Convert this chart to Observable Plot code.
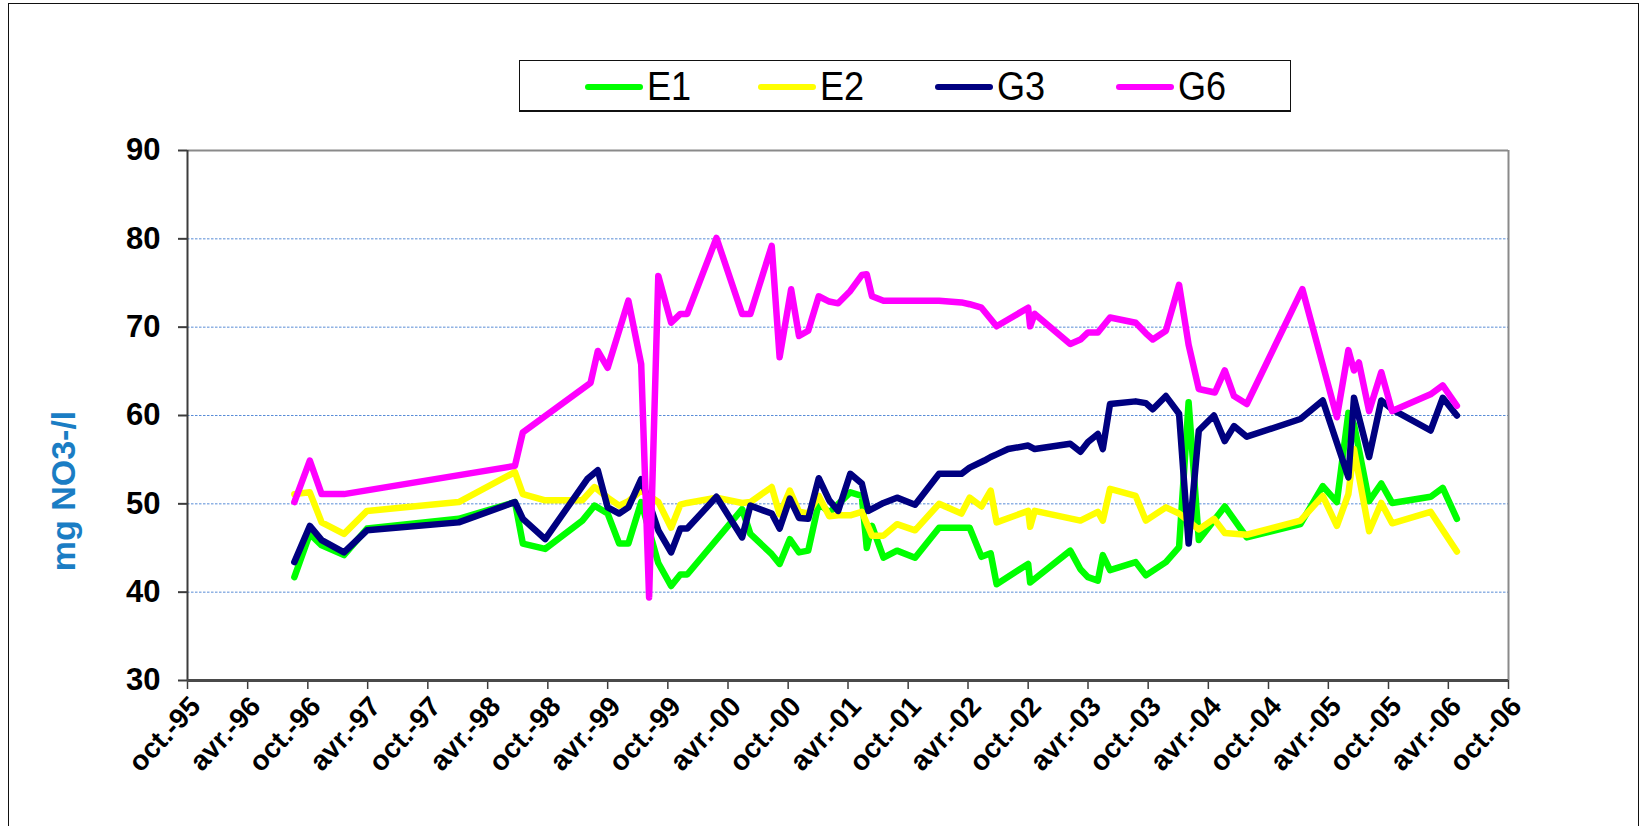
<!DOCTYPE html>
<html>
<head>
<meta charset="utf-8">
<script src="https://cdn.jsdelivr.net/npm/d3@7"></script>
<script src="https://cdn.jsdelivr.net/npm/@observablehq/plot@0.6"></script>
<style>
  html, body { margin: 0; padding: 0; background: #fff; }
  body { width: 1645px; height: 826px; position: relative; overflow: hidden; font-family: "Liberation Sans", Arial, sans-serif; }
  #frame { position: absolute; left: 8px; top: 3px; width: 1631px; height: 900px; border: 1.5px solid #111; box-sizing: border-box; }
  #chart { position: absolute; left: 0; top: 0; }
  #legend { position: absolute; left: 519px; top: 60px; width: 772px; height: 52px; border: 1.5px solid #111; border-bottom-width: 2.5px; box-sizing: border-box; background: #fff; }
  .sw { position: absolute; height: 6px; border-radius: 3px; top: 23px; }
  .lt { position: absolute; top: 2px; font-size: 41px; line-height: 46px; color: #000; transform: scaleX(0.88); transform-origin: left center; }
  #ylabel { position: absolute; left: 63px; top: 491px; transform: translate(-50%, -50%) rotate(-90deg); white-space: nowrap; color: #1a7dc4; font-weight: bold; font-size: 34px; line-height: 34px; }
</style>
</head>
<body>
<div id="frame"></div>
<div id="chart"></div>
<div id="legend"></div>
<div id="ylabel"></div>
<script>
// ---- data ----
const seriesNames = ["E1", "E2", "G3", "G6"];
const yAxisLabel = "mg NO3-/l";
const tickLabels = ["oct.-95","avr.-96","oct.-96","avr.-97","oct.-97","avr.-98","oct.-98","avr.-99","oct.-99","avr.-00","oct.-00","avr.-01","oct.-01","avr.-02","oct.-02","avr.-03","oct.-03","avr.-04","oct.-04","avr.-05","oct.-05","avr.-06","oct.-06"];
const yTicks = [30, 40, 50, 60, 70, 80, 90];
const gridValues = [40, 50, 60, 70, 80];

const e1 = [
["1996-08-21",41.7],["1996-10-07",46.6],["1996-11-12",45.3],["1997-01-19",44.2],["1997-03-30",47.2],
["1998-01-03",48.3],["1998-06-23",50.2],["1998-07-17",45.5],["1998-09-23",44.9],["1999-01-14",48.1],
["1999-02-20",49.8],["1999-04-01",48.9],["1999-05-06",45.5],["1999-06-03",45.5],["1999-07-12",50.2],
["1999-09-02",43.3],["1999-10-11",40.7],["1999-11-08",42.0],["1999-11-29",42.0],["2000-05-14",49.4],
["2000-06-08",46.6],["2000-08-12",44.3],["2000-09-05",43.2],["2000-10-06",46.0],["2000-11-03",44.5],
["2000-12-01",44.7],["2001-01-02",50.1],["2001-02-03",49.0],["2001-04-08",51.3],["2001-05-13",50.9],
["2001-05-28",45.0],["2001-06-13",47.5],["2001-07-18",43.9],["2001-08-28",44.7],["2001-10-22",43.9],
["2002-01-03",47.3],["2002-04-06",47.3],["2002-05-12",44.0],["2002-06-09",44.4],["2002-06-27",40.9],
["2002-10-01",43.2],["2002-10-07",41.1],["2003-02-06",44.7],["2003-03-09",42.6],["2003-04-01",41.7],
["2003-05-01",41.3],["2003-05-16",44.2],["2003-06-07",42.5],["2003-08-24",43.4],["2003-09-24",41.9],
["2003-11-24",43.4],["2004-01-03",45.1],["2004-02-01",61.5],["2004-03-03",45.9],["2004-05-21",49.7],
["2004-07-27",46.2],["2005-01-06",47.7],["2005-03-15",52.0],["2005-04-27",50.2],["2005-06-01",60.3],
["2005-06-18",59.0],["2005-08-03",50.3],["2005-09-09",52.3],["2005-10-12",50.1],["2006-02-06",50.8],
["2006-03-15",51.8],["2006-04-27",48.3]
];

const e2 = [
["1996-08-21",51.1],["1996-10-07",51.3],["1996-11-12",47.9],["1997-01-19",46.6],["1997-03-30",49.2],
["1998-01-03",50.2],["1998-06-23",53.6],["1998-07-17",51.1],["1998-09-23",50.4],["1999-01-14",50.4],
["1999-02-20",51.9],["1999-04-01",50.7],["1999-05-06",49.8],["1999-06-03",50.3],["1999-07-12",51.5],
["1999-09-02",50.2],["1999-10-11",47.3],["1999-11-08",49.9],["1999-11-29",50.1],["2000-02-26",50.7],
["2000-05-14",50.1],["2000-06-08",50.2],["2000-08-12",51.9],["2000-09-05",48.8],["2000-10-06",51.5],
["2000-11-03",49.1],["2000-12-01",48.9],["2001-01-02",50.9],["2001-02-03",48.6],["2001-03-02",48.7],
["2001-04-08",48.7],["2001-05-13",49.1],["2001-06-13",46.4],["2001-07-18",46.4],["2001-08-28",47.7],
["2001-10-22",47.0],["2002-01-03",50.0],["2002-03-12",48.9],["2002-04-06",50.7],["2002-05-12",49.7],
["2002-06-09",51.5],["2002-06-27",47.9],["2002-10-01",49.2],["2002-10-07",47.4],["2002-10-21",49.2],
["2003-03-09",48.1],["2003-05-01",49.1],["2003-05-16",48.1],["2003-06-07",51.7],["2003-08-24",50.9],
["2003-09-24",48.1],["2003-11-24",49.6],["2004-01-03",48.9],["2004-03-03",47.1],["2004-04-18",48.3],
["2004-05-21",46.7],["2004-07-27",46.5],["2005-01-06",48.1],["2005-03-15",50.9],["2005-04-27",47.5],
["2005-06-01",51.1],["2005-06-18",56.2],["2005-08-03",46.9],["2005-09-09",50.1],["2005-10-12",47.8],
["2006-02-06",49.1],["2006-04-27",44.6]
];

const g3 = [
["1996-08-21",43.4],["1996-10-07",47.5],["1996-11-12",45.9],["1997-01-19",44.5],["1997-03-30",47.0],
["1998-01-03",47.9],["1998-06-23",50.2],["1998-07-17",48.3],["1998-09-23",46.0],["1999-01-29",52.8],
["1999-03-02",53.8],["1999-04-01",49.6],["1999-05-06",48.9],["1999-06-03",49.6],["1999-07-12",52.8],
["1999-09-02",47.0],["1999-10-11",44.5],["1999-11-08",47.2],["1999-11-29",47.2],["2000-02-26",50.8],
["2000-05-14",46.2],["2000-06-08",49.8],["2000-08-12",48.9],["2000-09-05",47.2],["2000-10-06",50.6],
["2000-11-03",48.4],["2000-12-01",48.3],["2001-01-02",52.9],["2001-02-03",50.4],["2001-03-02",49.2],
["2001-04-08",53.4],["2001-05-13",52.3],["2001-06-02",49.2],["2001-07-18",50.1],["2001-08-28",50.7],
["2001-10-22",49.9],["2002-01-03",53.4],["2002-03-12",53.4],["2002-04-06",54.1],["2002-05-21",54.9],
["2002-06-09",55.3],["2002-06-27",55.6],["2002-08-01",56.2],["2002-10-01",56.6],["2002-10-21",56.2],
["2003-02-06",56.8],["2003-03-09",55.9],["2003-04-01",57.0],["2003-05-01",57.9],["2003-05-16",56.2],
["2003-06-07",61.3],["2003-08-24",61.6],["2003-09-24",61.4],["2003-10-15",60.7],["2003-11-24",62.2],
["2004-01-03",60.2],["2004-02-01",45.5],["2004-03-03",58.3],["2004-04-18",60.0],["2004-05-21",57.1],
["2004-06-18",58.8],["2004-07-27",57.6],["2005-01-06",59.6],["2005-03-15",61.7],["2005-06-01",53.0],
["2005-06-18",62.0],["2005-08-03",55.3],["2005-09-09",61.7],["2005-10-12",60.7],["2006-02-06",58.3],
["2006-03-15",62.0],["2006-04-27",60.0]
];

const g6 = [
["1996-08-21",50.2],["1996-10-07",54.9],["1996-11-12",51.1],["1997-01-19",51.1],["1998-06-23",54.3],
["1998-07-17",58.1],["1999-02-08",63.7],["1999-03-02",67.3],["1999-04-01",65.4],["1999-06-03",73.0],
["1999-07-12",65.8],["1999-08-05",39.4],["1999-09-02",75.8],["1999-10-11",70.5],["1999-11-08",71.5],
["1999-11-29",71.5],["2000-02-26",80.1],["2000-05-14",71.5],["2000-06-08",71.5],["2000-08-12",79.2],
["2000-09-05",66.6],["2000-10-10",74.3],["2000-11-03",69.0],["2000-12-01",69.6],["2001-01-02",73.5],
["2001-02-03",72.9],["2001-03-02",72.7],["2001-04-08",74.1],["2001-05-13",75.9],["2001-05-28",76.0],
["2001-06-13",73.5],["2001-07-18",73.0],["2002-01-03",73.0],["2002-03-12",72.8],["2002-04-06",72.6],
["2002-05-12",72.2],["2002-06-27",70.1],["2002-10-01",72.2],["2002-10-07",70.1],["2002-10-21",71.5],
["2003-02-06",68.1],["2003-03-09",68.6],["2003-04-01",69.4],["2003-05-01",69.4],["2003-06-07",71.1],
["2003-08-24",70.5],["2003-09-24",69.3],["2003-10-15",68.6],["2003-11-24",69.6],["2004-01-03",74.8],
["2004-02-01",68.0],["2004-03-03",63.0],["2004-04-21",62.6],["2004-05-21",65.1],["2004-06-18",62.2],
["2004-07-27",61.3],["2005-01-12",74.3],["2005-04-27",59.8],["2005-06-01",67.4],["2005-06-18",65.1],
["2005-07-03",66.0],["2005-08-03",60.5],["2005-09-09",64.9],["2005-10-12",60.5],["2006-02-06",62.4],
["2006-03-15",63.4],["2006-04-27",61.1]
];

const seriesData = [e1, e2, g3, g6];

// ---- styles ----
const seriesColors = ["#00ff00", "#ffff00", "#000080", "#ff00ff"];
const xMin = new Date(Date.UTC(1995, 9, 1));
const xMax = new Date(Date.UTC(2006, 9, 1));
const tickDates = tickLabels.map((_, i) => new Date(Date.UTC(1995, 9 + 6 * i, 1)));

const lineMarks = seriesData.map((s, i) => Plot.line(s, {
  x: d => new Date(d[0] + "T00:00:00Z"),
  y: d => d[1],
  stroke: seriesColors[i],
  strokeWidth: 6.5,
  strokeLinejoin: "round",
  strokeLinecap: "round"
}));

const chart = Plot.plot({
  width: 1645,
  height: 826,
  marginLeft: 187,
  marginRight: 137,
  marginTop: 150,
  marginBottom: 146,
  style: { background: "transparent", fontFamily: "'Liberation Sans', Arial, sans-serif", overflow: "visible" },
  x: { type: "utc", domain: [xMin, xMax], axis: null },
  y: { domain: [30, 90], axis: null },
  marks: [
    Plot.ruleY(gridValues, { stroke: "#3b78d0", strokeWidth: 1, strokeDasharray: "2.5,1.5", strokeOpacity: 0.85 }),
    Plot.ruleY([90], { stroke: "#8a8a8a", strokeWidth: 2 }),
    Plot.ruleX([xMax], { stroke: "#8a8a8a", strokeWidth: 2 }),
    ...lineMarks,
    Plot.ruleX([xMin], { stroke: "#3c3c3c", strokeWidth: 2 }),
    Plot.axisY(yTicks, { anchor: "left", tickSize: 9, tickPadding: 18, fontSize: 31, fontWeight: "bold", stroke: "#3c3c3c", strokeWidth: 2, label: null, tickFormat: d => String(d) }),
    Plot.axisX(tickDates, { anchor: "bottom", tickSize: 9, stroke: "#3c3c3c", strokeWidth: 1.5, label: null, tickFormat: () => "" }),
    Plot.ruleY([30], { stroke: "#4a4a4a", strokeWidth: 3 }),
    Plot.text(tickDates, {
      x: d => d, frameAnchor: "bottom",
      text: (d, i) => tickLabels[i],
      rotate: -47, textAnchor: "end", lineAnchor: "middle",
      dx: 8, dy: 21, fontSize: 28, fontWeight: "bold", fill: "#000"
    })
  ]
});
document.getElementById("chart").appendChild(chart);
document.getElementById("ylabel").textContent = yAxisLabel;

// ---- legend ----
const legend = document.getElementById("legend");
const swLeft = [65, 238, 415, 596];
seriesNames.forEach((name, i) => {
  const sw = document.createElement("div");
  sw.className = "sw";
  sw.style.left = swLeft[i] + "px";
  sw.style.width = "58px";
  sw.style.background = seriesColors[i];
  legend.appendChild(sw);
  const t = document.createElement("span");
  t.className = "lt";
  t.style.left = (swLeft[i] + 62) + "px";
  t.textContent = name;
  legend.appendChild(t);
});
</script>
</body>
</html>
